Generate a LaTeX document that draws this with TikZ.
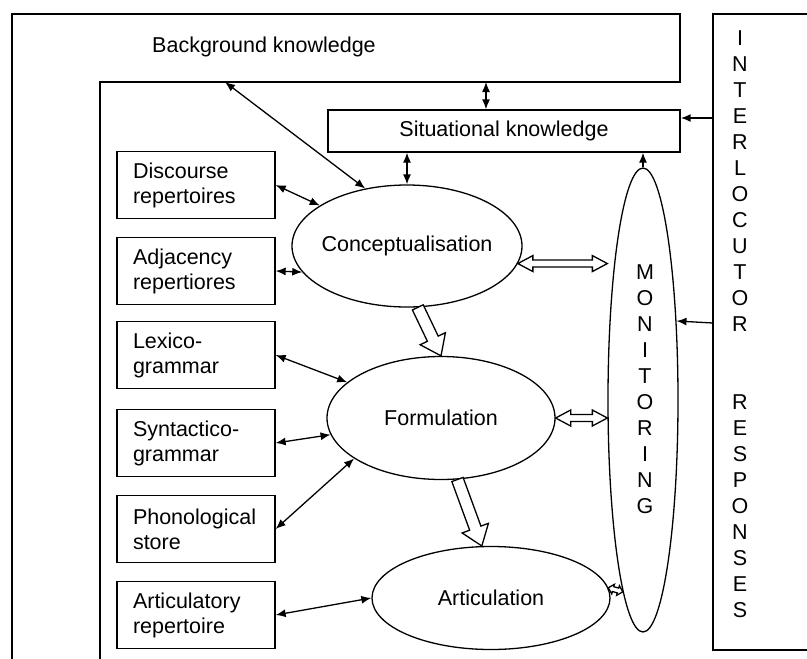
\documentclass[tikz,border=0pt]{standalone}
\usepackage{fontspec}
\setmainfont{Liberation Sans}
\usetikzlibrary{shapes.geometric,arrows.meta,calc}

\tikzset{
  store/.style={draw,minimum width=158pt,minimum height=67pt,text width=126pt,
    inner xsep=16pt,align=left},
  oval/.style={draw,ellipse,inner sep=0pt},
  link/.style={<->},
  % hollow arrow: shaft half width, head half width, head length
  fat/.style n args={3}{fill=white,to path={
    let \p1=(\tikztostart), \p2=(\tikztotarget),
        \n1={atan2(\y2-\y1,\x2-\x1)}, \n2={veclen(\x2-\x1,\y2-\y1)} in
    {[shift={(\p1)},rotate=\n1]
     (0pt,#1) -- (\n2-#3,#1) -- (\n2-#3,#2) -- (\n2,0pt)
     -- (\n2-#3,-#2) -- (\n2-#3,-#1) -- (0pt,-#1) -- cycle}}},
  fatboth/.style n args={3}{fill=white,to path={
    let \p1=(\tikztostart), \p2=(\tikztotarget),
        \n1={atan2(\y2-\y1,\x2-\x1)}, \n2={veclen(\x2-\x1,\y2-\y1)} in
    {[shift={(\p1)},rotate=\n1]
     (0pt,0pt) -- (#3,#2) -- (#3,#1) -- (\n2-#3,#1) -- (\n2-#3,#2)
     -- (\n2,0pt) -- (\n2-#3,-#2) -- (\n2-#3,-#1) -- (#3,-#1)
     -- (#3,-#2) -- cycle}}},
}

\begin{document}
\begin{tikzpicture}[x=1pt,y=-1pt,line width=1.3pt,
    font=\fontsize{21.5}{25}\selectfont,
    >={Latex[length=10pt,width=8pt]}]
  \useasboundingbox (0,0) rectangle (807,659);

  % background knowledge
  \draw (12,659) -- (12,14) -- (680,14) -- (680,82) -- (100,82) -- (100,659);
  \node (bgtext) at (264,47) {Background knowledge};
  \coordinate (bg1) at (225,82);
  \coordinate (bg2) at (486,82);

  % interlocutor responses
  \draw (807,14) -| (713,650) -- (807,650);
  \node[align=center,font=\fontsize{21.5}{26}\selectfont] (intltext) at (740,324)
    {I\\N\\T\\E\\R\\L\\O\\C\\U\\T\\O\\R\\[52pt]R\\E\\S\\P\\O\\N\\S\\E\\S};
  \coordinate (i1) at (713,118);
  \coordinate (i2) at (713,323);

  \node[draw,minimum width=352pt,minimum height=42pt] (sit) at (504,131)
    {Situational knowledge};

  % stores
  \node[store] (disc) at (196,185) {Discourse\\repertoires};
  \node[store] (adj)  at (196,271) {Adjacency\\repertiores};
  \node[store] (lex)  at (196,355) {Lexico-\\grammar};
  \node[store] (syn)  at (196,443) {Syntactico-\\grammar};
  \node[store] (pho)  at (196,529) {Phonological\\store};
  \node[store] (artr) at (196,615) {Articulatory\\repertoire};

  % processes
  \node[oval,minimum width=230pt,minimum height=122pt,label=center:Conceptualisation]
    (conc) at (407,246) {};
  \node[oval,minimum width=228pt,minimum height=123pt,label=center:Formulation]
    (form) at (441,418) {};
  \node[oval,minimum width=238pt,minimum height=103pt,label=center:Articulation]
    (art) at (491,598) {};
  \node[oval,minimum width=70pt,minimum height=464pt] (mon) at (643,400) {};
  \node[align=center,font=\fontsize{21.5}{26}\selectfont] (montext) at (645,389)
    {M\\O\\N\\I\\T\\O\\R\\I\\N\\G};

  \draw[link] (disc.east) -- (conc);
  \draw[link] (adj.east) -- (conc.194);
  \draw[link] (lex.east) -- (form);
  \draw[link] (syn.east) -- (form);
  \draw[link] (pho.east) -- (form.205);
  \draw[link] (artr.east) -- (art.west);
  \draw[link] (bg1) -- (conc.126);
  \draw[link] (bg2) -- (bg2 |- sit.north);
  \draw[link] (conc.north) -- (conc.north |- sit.south);
  \draw[->] (mon.north) -- (mon.north |- sit.south);
  \draw[->,line width=1.8pt] (i1) -- (i1 -| sit.east);
  \draw[->] (i2) -- (mon.67);

  \draw[fat={6pt}{14pt}{19pt}] (conc.-80) to (form.north);
  \draw[fat={6pt}{14pt}{19pt}] (form.-75) to (art.100);
  \draw[fatboth={3.5pt}{8pt}{15pt}] (conc.-9) to (conc.-9 -| mon.west);
  \draw[fatboth={3.5pt}{8pt}{15pt}] (form.east) to (form.east -| mon.west);
  \draw[fatboth={2.5pt}{5pt}{5pt}] (art.5) to (mon.264);
\end{tikzpicture}
\end{document}
